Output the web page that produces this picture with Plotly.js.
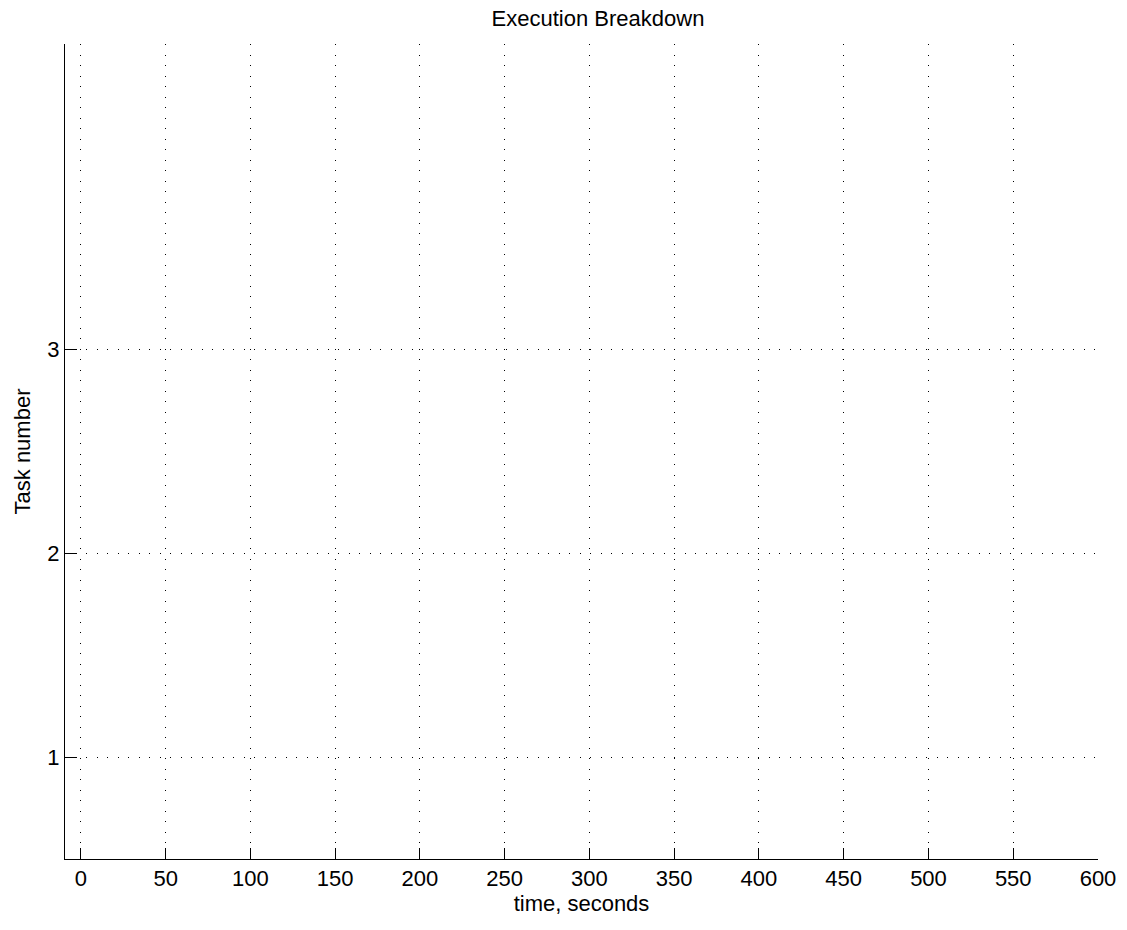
<!DOCTYPE html>
<html>
<head>
<meta charset="utf-8">
<script src="https://cdn.plot.ly/plotly-3.0.1.min.js"></script>
<style>html,body{margin:0;padding:0;background:#fff;}#chart{width:1127px;height:930px;}</style>
</head>
<body>
<div id="chart"></div>
<script>
// Data (the reference chart contains no task bars)
const taskNumbers = [1, 2, 3];
const timeTicks = [0, 50, 100, 150, 200, 250, 300, 350, 400, 450, 500, 550, 600];
const taskStart = [];
const taskDuration = [];
const taskIndex = [];
const xRange = [-9.4, 600];
const yRange = [0.5, 4.5];

const font = 'Liberation Sans, Arial, sans-serif';

const traces = [{
  type: 'bar',
  orientation: 'h',
  base: taskStart,
  x: taskDuration,
  y: taskIndex,
  marker: {color: '#0000ff'},
  showlegend: false,
  hoverinfo: 'skip'
}];

const layout = {
  width: 1127,
  height: 930,
  margin: {l: 65, r: 29, t: 44, b: 71, pad: 0},
  paper_bgcolor: '#ffffff',
  plot_bgcolor: '#ffffff',
  showlegend: false,
  font: {family: font, size: 22, color: '#000'},
  title: {
    text: 'Execution Breakdown',
    font: {family: font, size: 22, color: '#000'},
    x: 581.5 / 1127, xanchor: 'center', xref: 'paper',
    y: 1 - 18 / 930, yanchor: 'middle', yref: 'container'
  },
  xaxis: {
    range: xRange,
    tickvals: timeTicks,
    ticktext: timeTicks.map(String),
    ticks: 'inside', ticklen: 11, tickwidth: 1, tickcolor: '#000',
    showline: true, linecolor: '#000', linewidth: 1, mirror: false,
    showgrid: true, gridcolor: '#000', gridwidth: 1, griddash: '1px,9.5px',
    zeroline: false,
    tickfont: {family: font, size: 22, color: '#000'},
    title: {text: 'time, seconds', font: {family: font, size: 22, color: '#000'}, standoff: 4},
    fixedrange: true
  },
  yaxis: {
    range: yRange,
    tickvals: taskNumbers,
    ticktext: taskNumbers.map(String),
    ticks: 'inside', ticklen: 11, tickwidth: 1, tickcolor: '#000',
    showline: true, linecolor: '#000', linewidth: 1, mirror: false,
    showgrid: true, gridcolor: '#000', gridwidth: 1, griddash: '1px,9.5px',
    zeroline: false,
    tickfont: {family: font, size: 22, color: '#000'},
    title: {text: 'Task number', font: {family: font, size: 22, color: '#000'}, standoff: 10},
    fixedrange: true
  }
};

Plotly.newPlot('chart', traces, layout, {displayModeBar: false, staticPlot: true});
</script>
</body>
</html>
